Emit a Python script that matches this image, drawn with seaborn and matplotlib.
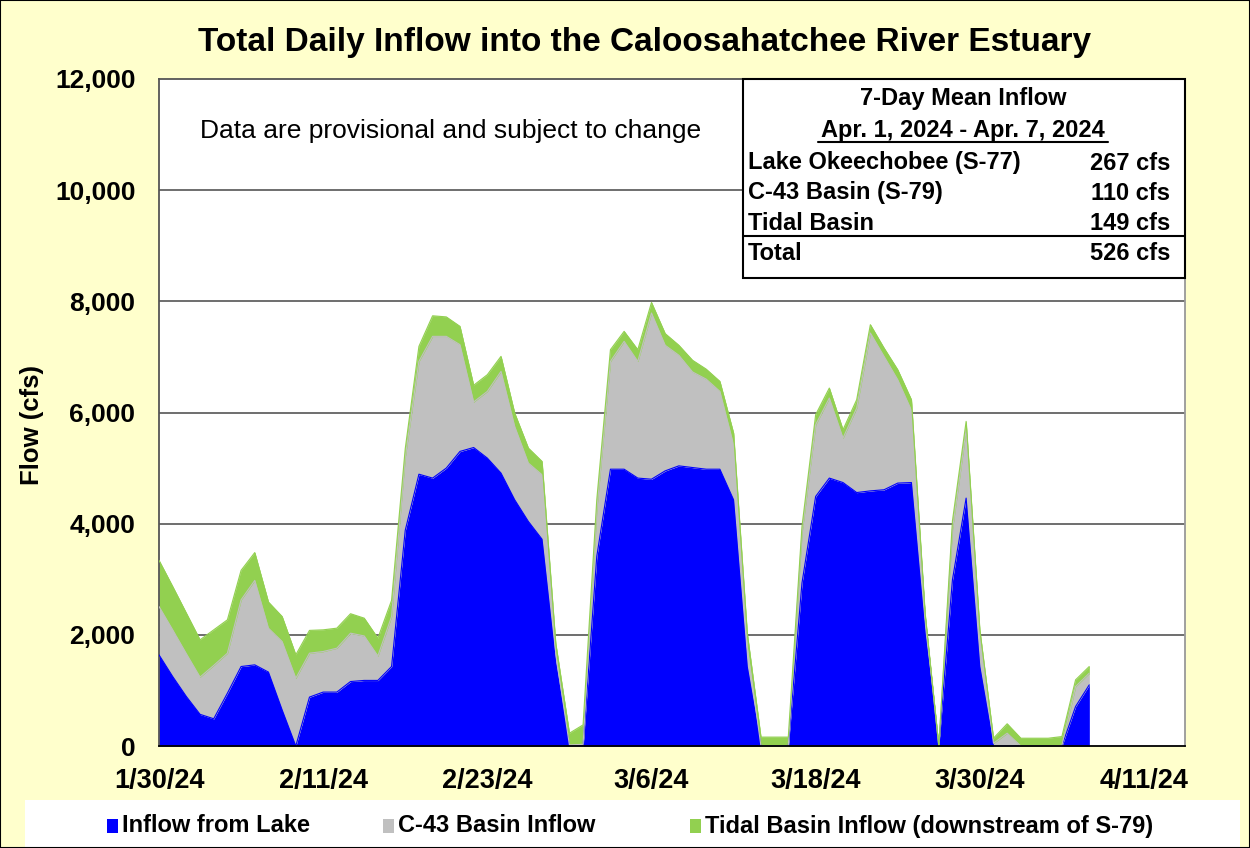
import matplotlib
matplotlib.use("Agg")
import matplotlib.pyplot as plt
import matplotlib.dates as mdates
from matplotlib.patches import Rectangle
from matplotlib.lines import Line2D
import numpy as np
import pandas as pd
import seaborn as sns

# daily inflow (cfs), 1/30/24 - 4/7/24
lake = [1640, 1250, 890, 570, 490, 950, 1430, 1460, 1330, 650,
        0, 880, 970, 970, 1160, 1180, 1180, 1430, 3880, 4890,
        4820, 5000, 5300, 5370, 5180, 4910, 4430, 4040, 3720, 1490,
        0, 0, 3410, 4980, 4980, 4820, 4800, 4950, 5040, 5010,
        4980, 4980, 4430, 1430, 0, 0, 0, 2930, 4490, 4820,
        4740, 4560, 4590, 4610, 4730, 4740, 2030, 0, 2990, 4460,
        1430, 0, 0, 0, 0, 0, 0, 710, 1100]
c43 = [870, 840, 770, 670, 960, 720, 1200, 1520, 790, 1230,
       1220, 790, 730, 790, 870, 800, 440, 900, 1320, 2030,
       2550, 2370, 1920, 820, 1200, 1830, 1320, 1050, 1160, 180,
       20, 30, 840, 1940, 2300, 2100, 2990, 2260, 1990, 1720,
       1620, 1400, 990, 360, 0, 0, 0, 900, 1290, 1440,
       800, 1520, 2840, 2400, 1860, 1300, 300, 0, 910, 1230,
       540, 50, 230, 0, 0, 0, 10, 360, 210]
tidal = [830, 780, 730, 670, 640, 600, 530, 500, 470, 450,
         420, 410, 390, 360, 350, 320, 320, 290, 150, 270,
         370, 350, 330, 300, 300, 270, 240, 270, 240, 180,
         210, 350, 180, 210, 180, 210, 190, 210, 180, 210,
         180, 180, 210, 240, 160, 160, 160, 120, 180, 180,
         150, 150, 150, 150, 180, 190, 60, 0, 150, 150,
         120, 90, 170, 140, 140, 140, 160, 120, 120]

series_names = ["Inflow from Lake", "C-43 Basin Inflow", "Tidal Basin Inflow (downstream of S-79)"]
tick_labels = ["1/30/24", "2/11/24", "2/23/24", "3/6/24", "3/18/24", "3/30/24", "4/11/24"]
y_ticks = [0, 2000, 4000, 6000, 8000, 10000, 12000]

box_rows = ["Lake Okeechobee (S-77)", "C-43 Basin (S-79)", "Tidal Basin", "Total"]
box_vals = ["267 cfs", "110 cfs", "149 cfs", "526 cfs"]

colors = ["#0000FF", "#C0C0C0", "#92D050"]

dates = pd.date_range("2024-01-30", periods=len(lake), freq="D")
df = pd.DataFrame({"date": dates, "lake": lake, "c43": c43, "tidal": tidal})
df["top1"] = df.lake
df["top2"] = df.lake + df.c43
df["top3"] = df.top2 + df.tidal

sns.set_style("white")
plt.rcParams["font.family"] = ["Liberation Sans", "DejaVu Sans"]
plt.rcParams.update({"text.color": "black", "axes.labelcolor": "black",
                     "xtick.color": "black", "ytick.color": "black"})

W, H = 1250, 848
fig = plt.figure(figsize=(W / 100, H / 100), dpi=100, facecolor="#FFFFCC")
fx = lambda px: px / W
fy = lambda py: 1 - py / H

ax = fig.add_axes([fx(159), fy(746), fx(1185) - fx(159), fy(79) - fy(746)])
ax.set_facecolor("white")

# stacked areas
ax.stackplot(df.date, df.lake, df.c43, df.tidal, colors=colors,
             edgecolor="face", linewidth=0.3, zorder=2)
for col, c in zip(["top1", "top2", "top3"], colors):
    sns.lineplot(x=df.date, y=df[col], color=c, lw=0.8, ax=ax, zorder=3)

start = pd.Timestamp("2024-01-30")
ax.set_xlim(start, start + pd.Timedelta(days=75))
ax.set_ylim(0, 12000)

# y axis
ax.set_yticks(y_ticks)
ax.set_yticklabels([f"{v:,}" for v in y_ticks], fontsize=19, fontweight="bold")
for v in y_ticks[1:-1]:
    ax.axhline(v, color="#555555", lw=1.2, zorder=1)
ax.set_ylabel("Flow (cfs)", fontsize=18.5, fontweight="bold")
ax.yaxis.set_label_coords((44 - 159) / 1026, (746 - 425) / 667)

# x axis
major = [start + pd.Timedelta(days=12 * i) for i in range(len(tick_labels))]
ax.set_xticks(major)
ax.set_xticklabels(tick_labels, fontsize=19.5, fontweight="bold")
ax.xaxis.set_minor_locator(mdates.DayLocator())
ax.tick_params(axis="x", which="major", direction="out", length=7, width=1.2, color="black", pad=9)
ax.tick_params(axis="x", which="minor", direction="out", length=5, width=1.0, color="black")
ax.tick_params(axis="y", which="major", direction="out", length=6, width=1.0, color="black", pad=11)
ax.set_xlabel("")

ax.spines["bottom"].set_color("black")
ax.spines["bottom"].set_linewidth(1.3)
ax.spines["bottom"].set_zorder(5)
ax.spines["left"].set_color("#555555")
ax.spines["left"].set_linewidth(1.3)
ax.spines["top"].set_color("#555555")
ax.spines["top"].set_linewidth(1.3)
ax.spines["right"].set_color("#999999")
ax.spines["right"].set_linewidth(1.3)

# title and note
fig.text(fx(645), fy(42), "Total Daily Inflow into the Caloosahatchee River Estuary",
         ha="center", va="center", fontsize=24, fontweight="bold")
fig.text(fx(200), fy(131), "Data are provisional and subject to change",
         ha="left", va="center", fontsize=19)

# 7-day mean box
fig.patches.append(Rectangle((fx(743), fy(278)), fx(1185) - fx(743), fy(79) - fy(278),
                             transform=fig.transFigure, facecolor="white",
                             edgecolor="black", lw=1.5, zorder=6))
fig.text(fx(963), fy(98), "7-Day Mean Inflow", ha="center", va="center",
         fontsize=17, fontweight="bold", zorder=7)
fig.text(fx(963), fy(130), "Apr. 1, 2024 - Apr. 7, 2024", ha="center", va="center",
         fontsize=17, fontweight="bold", zorder=7)
fig.lines.append(Line2D([fx(818), fx(1108)], [fy(142), fy(142)], transform=fig.transFigure,
                        color="black", lw=1.5, zorder=7))
for i, (lab, val) in enumerate(zip(box_rows, box_vals)):
    yy = fy(163 + 30 * i)
    fig.text(fx(748), yy, lab, ha="left", va="center", fontsize=17, fontweight="bold", zorder=7)
    fig.text(fx(1170), yy, val, ha="right", va="center", fontsize=17, fontweight="bold", zorder=7)
fig.lines.append(Line2D([fx(743), fx(1185)], [fy(236), fy(236)], transform=fig.transFigure,
                        color="black", lw=1.5, zorder=7))

# legend strip
fig.patches.append(Rectangle((fx(25), 0), fx(1240) - fx(25), fy(800),
                             transform=fig.transFigure, facecolor="white",
                             edgecolor="none", zorder=0))
for name, c, px_mark in zip(series_names, colors, [107, 383, 690]):
    fig.patches.append(Rectangle((fx(px_mark), fy(833)), fx(11), fy(819) - fy(833),
                                 transform=fig.transFigure, facecolor=c, edgecolor="none"))
    fig.text(fx(px_mark + 15), fy(826), name, ha="left", va="center",
             fontsize=17, fontweight="bold")

# figure border
fig.patches.append(Rectangle((0, 0), 1, 1, transform=fig.transFigure, fill=False,
                             edgecolor="black", lw=1.5))

fig.savefig("out.png", dpi=100, facecolor=fig.get_facecolor())
